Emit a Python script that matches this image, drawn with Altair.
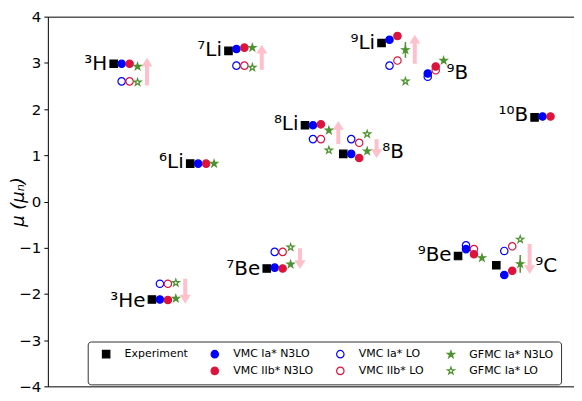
import math
import altair as alt
import pandas as pd

# ---- data ----
nuclei = ["³H", "³He", "⁶Li", "⁷Li", "⁷Be", "⁸Li", "⁸B", "⁹Li", "⁹B", "⁹Be", "⁹C", "¹⁰B"]
experiment    = [2.98, -2.12, 0.82, 3.26, -1.45, 1.65, 1.03, 3.43, None, -1.18, -1.38, 1.82]
vmc_ia_n3lo   = [2.98, -2.12, 0.82, 3.30, -1.43, 1.65, 1.03, 3.50, 2.77, -1.03, -1.59, 1.84]
vmc_iib_n3lo  = [2.98, -2.13, 0.82, 3.33, -1.45, 1.67, 0.94, 3.58, 2.92, -1.14, -1.50, 1.84]
vmc_ia_lo     = [2.60, -1.78, None, 2.94, -1.09, 1.35, 1.35, 2.94, 2.70, -0.95, -1.07, None]
vmc_iib_lo    = [2.60, -1.78, None, 2.94, -1.09, 1.35, 1.27, 3.05, 2.84, -1.03, -0.97, None]
gfmc_ia_n3lo  = [2.92, -2.10, 0.82, 3.33, -1.36, 1.54, 1.09, 3.28, 3.05, -1.22, -1.35, None]
gfmc_n3lo_err = [0, 0, 0, 0, 0, 0, 0, 0.17, 0, 0, 0.19, 0]
gfmc_ia_lo    = [2.58, -1.76, None, 2.90, -0.99, 1.11, 1.46, 2.60, None, None, -0.82, None]

# arrows (LO -> N3LO shift)
arrow_nuclei = ["³H", "³He", "⁷Li", "⁷Be", "⁸Li", "⁸B", "⁹Li", "⁹C"]
arrow_from   = [2.51, -1.67, 2.85, -1.01, 1.24, 1.35, 2.98, -0.92]
arrow_to     = [3.11, -2.21, 3.39, -1.46, 1.74, 0.94, 3.61, -1.57]

# nucleus label placement: side and vertical value
label_side = ["left", "left", "left", "left", "left", "left", "right", "left", "right", "left", "right", "left"]
label_mu   = [2.98, -2.15, 0.86, 3.28, -1.46, 1.67, 1.07, 3.43, 2.77, -1.16, -1.39, 1.87]

series_names = ["Experiment", "VMC Ia* N3LO", "VMC IIb* N3LO", "VMC Ia* LO",
                "VMC IIb* LO", "GFMC Ia* N3LO", "GFMC Ia* LO"]
series_values = [experiment, vmc_ia_n3lo, vmc_iib_n3lo, vmc_ia_lo,
                 vmc_iib_lo, gfmc_ia_n3lo, gfmc_ia_lo]
series_slot = [0, 1, 2, 1, 2, 3, 3]

STEP = 0.208
rows = []
for name, vals, slot in zip(series_names, series_values, series_slot):
    for i, v in enumerate(vals):
        if v is not None:
            rows.append({"series": name, "x": i + slot * STEP, "mu": v})
df = pd.DataFrame(rows)

err_rows = []
for i, (v, e) in enumerate(zip(gfmc_ia_n3lo, gfmc_n3lo_err)):
    if v is not None and e > 0:
        err_rows.append({"x": i + 3 * STEP, "lo": v - e, "hi": v + e})
df_err = pd.DataFrame(err_rows)

arr_rows = []
for n, a, b in zip(arrow_nuclei, arrow_from, arrow_to):
    i = nuclei.index(n)
    d = 1 if b > a else -1
    arr_rows.append({"x": i + 0.87, "y0": a, "y1": b - d * 0.12, "tip": b,
                     "dir": "up" if d > 0 else "down"})
df_arr = pd.DataFrame(arr_rows)

lab_rows = []
for i, (n, s, m) in enumerate(zip(nuclei, label_side, label_mu)):
    if s == "left":
        lx = i - 0.17
    else:
        lx = i + (0.70 if n == "⁹B" else 1.02)
    lab_rows.append({"label": n, "x": lx, "mu": m, "side": s})
df_lab = pd.DataFrame(lab_rows)

# ---- marker shapes ----
pts = []
for k in range(10):
    ang = math.radians(-90 + 36 * k)
    r = 1.0 if k % 2 == 0 else 0.382
    pts.append(f"{r * math.cos(ang):.3f},{r * math.sin(ang):.3f}")
STAR = "M" + "L".join(pts) + "Z"

# ---- scales ----
H = 371
xscale = alt.Scale(domain=[-1.72, 12.03], nice=False, zero=False)
yscale = alt.Scale(domain=[-4, 4], nice=False)

BLUE = "#0000ff"
RED = "#dc143c"
GREEN = "#4c922e"
PINK = "#ffc0cb"

# legend fills column by column (2 rows x 4 columns)
legend_domain = ["Experiment", "blank", "VMC Ia* N3LO", "VMC IIb* N3LO",
                 "VMC Ia* LO", "VMC IIb* LO", "GFMC Ia* N3LO", "GFMC Ia* LO"]
shape_range = ["square", "circle", "circle", "circle", "circle", "circle", STAR, STAR]
fill_range = ["black", "transparent", BLUE, RED, "transparent", "transparent", GREEN, "transparent"]
stroke_range = ["black", "transparent", BLUE, RED, BLUE, RED, GREEN, GREEN]
size_range = [55, 55, 60, 60, 55, 55, 160, 160]

legend = alt.Legend(
    title=None, orient="none", legendX=40, legendY=326, columns=4,
    labelExpr="datum.label == 'blank' ? '' : datum.label",
    labelFont="DejaVu Sans", labelFontSize=11, labelColor="black",
    padding=7, strokeColor="#333333", fillColor="white", cornerRadius=3,
    rowPadding=4, columnPadding=15, labelOffset=13, symbolOffset=6,
    symbolStrokeWidth=1.2,
)

points = alt.Chart(df).mark_point(opacity=1, strokeWidth=1.2).encode(
    x=alt.X("x:Q", scale=xscale, axis=None),
    y=alt.Y("mu:Q", scale=yscale,
            axis=alt.Axis(values=[-4, -3, -2, -1, 0, 1, 2, 3, 4], format="d",
                          title="μ (μₙ)", grid=False,
                          titleX=-29, titleY=H / 2, titleAngle=270,
                          titleAlign="center", titleBaseline="middle")),
    shape=alt.Shape("series:N", scale=alt.Scale(domain=legend_domain, range=shape_range), legend=legend),
    fill=alt.Fill("series:N", scale=alt.Scale(domain=legend_domain, range=fill_range), legend=legend),
    stroke=alt.Stroke("series:N", scale=alt.Scale(domain=legend_domain, range=stroke_range), legend=legend),
    size=alt.Size("series:N", scale=alt.Scale(domain=legend_domain, range=size_range), legend=legend),
)

errbars = alt.Chart(df_err).mark_rule(color=GREEN, strokeWidth=1.5).encode(
    x=alt.X("x:Q", scale=xscale, axis=None),
    y=alt.Y("lo:Q", scale=yscale),
    y2="hi:Q",
)

arrow_shafts = alt.Chart(df_arr).mark_rule(color=PINK, strokeWidth=4, strokeCap="butt").encode(
    x=alt.X("x:Q", scale=xscale, axis=None),
    y=alt.Y("y0:Q", scale=yscale),
    y2="y1:Q",
)
heads_up = alt.Chart(df_arr).transform_filter("datum.dir == 'up'").mark_point(
    filled=True, opacity=1, size=121, color=PINK, strokeWidth=0, shape="M0,0L-1,1.6L1,1.6Z"
).encode(
    x=alt.X("x:Q", scale=xscale, axis=None),
    y=alt.Y("tip:Q", scale=yscale),
)
heads_down = alt.Chart(df_arr).transform_filter("datum.dir == 'down'").mark_point(
    filled=True, opacity=1, size=121, color=PINK, strokeWidth=0, shape="M0,0L-1,-1.6L1,-1.6Z"
).encode(
    x=alt.X("x:Q", scale=xscale, axis=None),
    y=alt.Y("tip:Q", scale=yscale),
)

labels_left = alt.Chart(df_lab).transform_filter("datum.side == 'left'").mark_text(
    align="right", baseline="middle", font="DejaVu Sans", fontSize=20, color="black"
).encode(
    x=alt.X("x:Q", scale=xscale, axis=None),
    y=alt.Y("mu:Q", scale=yscale),
    text="label:N",
)
labels_right = alt.Chart(df_lab).transform_filter("datum.side == 'right'").mark_text(
    align="left", baseline="middle", font="DejaVu Sans", fontSize=20, color="black"
).encode(
    x=alt.X("x:Q", scale=xscale, axis=None),
    y=alt.Y("mu:Q", scale=yscale),
    text="label:N",
)

chart = alt.layer(
    arrow_shafts, heads_up, heads_down, errbars, points, labels_left, labels_right
).properties(
    width=528, height=H,
    autosize=alt.AutoSizeParams(type="none"),
    padding={"left": 40, "top": 8, "right": 0, "bottom": 12},
).configure_view(
    stroke="black", strokeWidth=1
).configure_axisY(
    domain=False, tickColor="black", tickSize=4, tickWidth=1,
    labelFont="DejaVu Sans", labelFontSize=15, labelColor="black", labelPadding=3,
    titleFont="DejaVu Sans", titleFontSize=18, titleFontWeight="normal",
    titleFontStyle="italic", titleColor="black",
)

chart.save("out.html", embed_options={"renderer": "svg", "actions": False})
